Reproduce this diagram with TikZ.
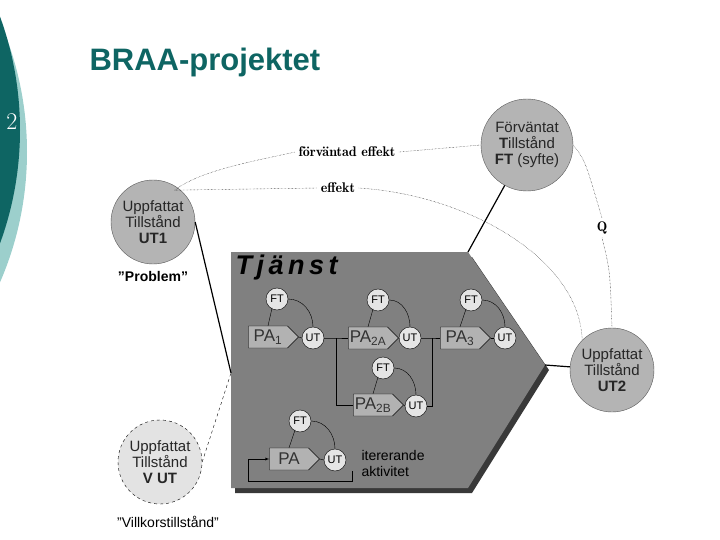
\documentclass[tikz,border=0pt]{standalone}
\usepackage{fontspec}
\setmainfont{Liberation Sans}
\usetikzlibrary{shapes.symbols}
\definecolor{teal1}{HTML}{0E6563}
\definecolor{teal2}{HTML}{9CCFCC}
\definecolor{big}{HTML}{B4B4B4}
\definecolor{tj}{HTML}{808080}
\begin{document}
\begin{tikzpicture}[x=1pt,y=-1pt,
 bigc/.style={circle,draw=gray!70!black,fill=big,minimum size=84pt,inner sep=0pt,align=center,font=\fontsize{15}{16}\selectfont,text=black!85},
 sc/.style={circle,draw=black,fill=gray!20,minimum size=22pt,inner sep=0pt,font=\fontsize{11}{11}\selectfont},
 pa/.style={signal,signal to=east,draw=black,fill=gray!60,minimum width=50pt,minimum height=22pt,inner sep=1pt,font=\fontsize{17}{17}\selectfont,text=black!80},
 dot/.style={densely dotted,thin},
 lbl/.style={font=\fontfamily{lmr}\bfseries\fontsize{14}{14}\selectfont}]
\useasboundingbox (0,0) rectangle (720,540);
\fill[teal2] (-300,152) circle (327);
\fill[teal1] (-310,130) circle (330);
\node[text=white,font=\fontfamily{lmr}\fontsize{24}{24}\selectfont] (num) at (12,122) {2};
\node[text=teal1,font=\bfseries\fontsize{31}{31}\selectfont,anchor=west] (title) at (86,62) {BRAA-projektet};
% Tjanst
\fill[gray!45!black] (235,257) -- (472,257) -- (549,370) -- (472,493) -- (235,493) -- cycle;
\fill[tj] (231,252) -- (468,252) -- (545,365) -- (468,488) -- (231,488) -- cycle;
\coordinate (tl) at (231,373); \coordinate (tt) at (468,252); \coordinate (tr) at (545,365);
\node[anchor=west,font=\bfseries\itshape\fontsize{27}{27}\selectfont] (tjn) at (232,268) {T\,j\,ä\,n\,s\,t};
% big circles
\node[bigc] (ut1) at (153,222) {Uppfattat\\Tillstånd\\\textbf{UT1}};
\node[font=\bfseries\fontsize{14}{14}\selectfont] (prob) at (153,276) {”Problem”};
\node[bigc,minimum size=92pt] (ft) at (527,145) {Förväntat\\\textbf{T}illstånd\\\textbf{FT} (syfte)};
\node[bigc] (ut2) at (612,370) {Uppfattat\\Tillstånd\\\textbf{UT2}};
\node[bigc,fill=gray!22,draw=black,dashed] (vut) at (160,462) {Uppfattat\\Tillstånd\\\textbf{V UT}};
\node[font=\fontsize{14}{14}\selectfont] (vk) at (168,522) {”Villkorstillstånd”};
\draw[line width=1.2pt] (ut1.east) -- (tl);
\draw[line width=1.2pt] (ft) -- (tt);
\draw[line width=1.2pt] (tr) -- (ut2);
\draw[dashed] (vut.east) -- (tl);
% dotted
\node[lbl] (fe) at (347,152) {förväntad effekt};
\node[lbl] (ef) at (338,188) {effekt};
\node[lbl] (q) at (602,228) {Q};
\draw[dot] (ut1.north east) ++(-8,-2) .. controls (200,170) and (260,160) .. (fe.west);
\draw[dot] (fe.east) -- (ft.west);
\draw[dot] (ut1.north east) ++(-8,-2) -- (ef.west);
\draw[dot] (ef.east) .. controls (470,195) and (580,260) .. (ut2.north west);
\draw[dot] (ft.east) .. controls (585,160) .. (q.north);
\draw[dot] (q.south) .. controls (610,270) .. (ut2.north);
% process rows
\node[pa] (p1) at (268,337) {PA\textsubscript{1}};
\node[sc] (u1) at (313,338) {UT};
\node[sc] (f1) at (277,299) {FT};
\node[pa] (p2a) at (368,338) {PA\textsubscript{2A}};
\node[sc] (u2a) at (410,338) {UT};
\node[sc] (f2a) at (378,300) {FT};
\node[pa] (p3) at (460,338) {PA\textsubscript{3}};
\node[sc] (u3) at (505,338) {UT};
\node[sc] (f3) at (471,300) {FT};
\node[pa] (p2b) at (373,405) {PA\textsubscript{2B}};
\node[sc] (u2b) at (416,406) {UT};
\node[sc] (f2b) at (383,368) {FT};
\node[pa] (pi) at (289,459) {PA};
\node[sc] (ui) at (335,460) {UT};
\node[sc] (fi) at (300,421) {FT};
\node[anchor=west,align=left,font=\fontsize{14}{16}\selectfont] (it) at (358,463) {itererande\\aktivitet};
\foreach \p/\u/\f in {p1/u1/f1,p2a/u2a/f2a,p3/u3/f3,p2b/u2b/f2b,pi/ui/fi}{
 \draw (\p.east) -- (\u.west);
 \draw (\f.south west) ++(3,1) -- (\p.north);
 \draw (\f.east) to[out=0,in=90] (\u.north);
}
\coordinate (j1) at (336,338);
\draw (u1.east) -- (j1) -- (p2a.west);
\draw (j1) |- (p2b.west);
\coordinate (j2) at (432,338);
\draw (u2a.east) -- (j2) -- (p3.west);
\draw (u2b.east) -| (j2);
\draw[-latex] (ui.south) ++(17,0) coordinate (lp) -- (lp |- 0,481) -- (248,481) -- (248,459) -- (pi.west);
\end{tikzpicture}
\end{document}
